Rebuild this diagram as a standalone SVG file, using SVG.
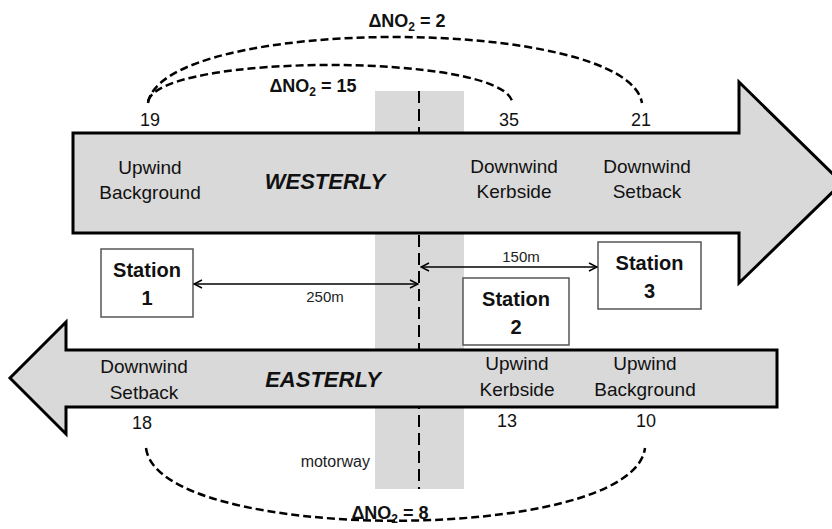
<svg xmlns="http://www.w3.org/2000/svg" width="832" height="529" viewBox="0 0 832 529">
<style>
.lbl{font-family:"Liberation Sans",Arial,sans-serif;font-size:19px;fill:#111;text-anchor:middle}
.num{font-family:"Liberation Sans",Arial,sans-serif;font-size:18px;fill:#111;text-anchor:middle}
.dir{font-family:"Liberation Sans",Arial,sans-serif;font-size:22px;font-weight:bold;font-style:italic;fill:#111;text-anchor:middle}
.st{font-family:"Liberation Sans",Arial,sans-serif;font-size:20px;font-weight:bold;fill:#111;text-anchor:middle}
.dno{font-family:"Liberation Sans",Arial,sans-serif;font-size:18px;font-weight:bold;fill:#111;text-anchor:middle}
.dist{font-family:"Liberation Sans",Arial,sans-serif;font-size:15px;fill:#222;text-anchor:middle}
.arrow{fill:#d9d9d9;stroke:#000;stroke-width:3;stroke-linejoin:miter}
.box{fill:#fff;stroke:#555;stroke-width:1.5}
.arc{fill:none;stroke:#000;stroke-width:2.5;stroke-dasharray:8 4}
.dim{fill:none;stroke:#000;stroke-width:1.5}
</style>
<defs>
<marker id="chev" viewBox="0 0 10 10" refX="9" refY="5" markerWidth="10" markerHeight="10" markerUnits="userSpaceOnUse" orient="auto-start-reverse">
<path d="M1,1 L9,5 L1,9" fill="none" stroke="#000" stroke-width="1.5"/>
</marker>
</defs>
<rect width="832" height="529" fill="#fff"/>
<g id="motorway">
<rect x="375" y="91" width="89" height="398" fill="#d9d9d9"/>
<line x1="419" y1="91" x2="419" y2="489" stroke="#000" stroke-width="2" stroke-dasharray="12 6"/>
<text x="370" y="467" font-family="Liberation Sans, Arial, sans-serif" font-size="16" fill="#222" text-anchor="end">motorway</text>
</g>
<g id="westerly">
<path class="arrow" d="M73,133 L739,133 L739,82 L842,183 L739,283 L739,233 L73,233 Z"/>
<text class="dir" x="325" y="189">WESTERLY</text>
<text class="lbl" x="150" y="174">Upwind</text>
<text class="lbl" x="150" y="199">Background</text>
<text class="lbl" x="514" y="173">Downwind</text>
<text class="lbl" x="514" y="198">Kerbside</text>
<text class="lbl" x="647" y="173">Downwind</text>
<text class="lbl" x="647" y="198">Setback</text>
</g>
<g id="easterly">
<path class="arrow" d="M777,350 L66,350 L66,322 L10,378 L66,434 L66,407 L777,407 Z"/>
<text class="dir" x="323" y="387">EASTERLY</text>
<text class="lbl" x="144" y="373">Downwind</text>
<text class="lbl" x="144" y="399">Setback</text>
<text class="lbl" x="517" y="370">Upwind</text>
<text class="lbl" x="517" y="396">Kerbside</text>
<text class="lbl" x="645" y="370">Upwind</text>
<text class="lbl" x="645" y="396">Background</text>
</g>
<g id="station1">
<rect class="box" x="101" y="249" width="92" height="68"/>
<text class="st" x="147" y="277">Station</text>
<text class="st" x="147" y="305">1</text>
</g>
<g id="station2">
<rect class="box" x="463" y="278" width="106" height="67"/>
<text class="st" x="516" y="306">Station</text>
<text class="st" x="516" y="334">2</text>
</g>
<g id="station3">
<rect class="box" x="598" y="242" width="103" height="67"/>
<text class="st" x="649.5" y="270">Station</text>
<text class="st" x="649.5" y="298">3</text>
</g>
<g id="values">
<text class="num" x="150" y="126">19</text>
<text class="num" x="509" y="126">35</text>
<text class="num" x="641" y="126">21</text>
<text class="num" x="142" y="429">18</text>
<text class="num" x="507" y="427">13</text>
<text class="num" x="646" y="427">10</text>
</g>
<g id="connectors">
<line class="dim" x1="194" y1="284" x2="418" y2="284" marker-start="url(#chev)" marker-end="url(#chev)"/>
<text class="dist" x="325" y="302">250m</text>
<line class="dim" x1="421" y1="267" x2="597" y2="267" marker-start="url(#chev)" marker-end="url(#chev)"/>
<text class="dist" x="521" y="262">150m</text>
<path class="arc" d="M148,103 C163,15 627,15 642,103"/>
<path class="arc" d="M148,101 C162,53 498,53 512,101"/>
<path class="arc" d="M146,448 C158,545 633,545 645,448"/>
<text class="dno" x="407" y="27">ΔNO<tspan font-size="12" dy="4">2</tspan><tspan dy="-4"> = 2</tspan></text>
<text class="dno" x="313" y="92">ΔNO<tspan font-size="12" dy="4">2</tspan><tspan dy="-4"> = 15</tspan></text>
<text class="dno" x="390" y="519">ΔNO<tspan font-size="12" dy="4">2</tspan><tspan dy="-4"> = 8</tspan></text>
</g>
</svg>
